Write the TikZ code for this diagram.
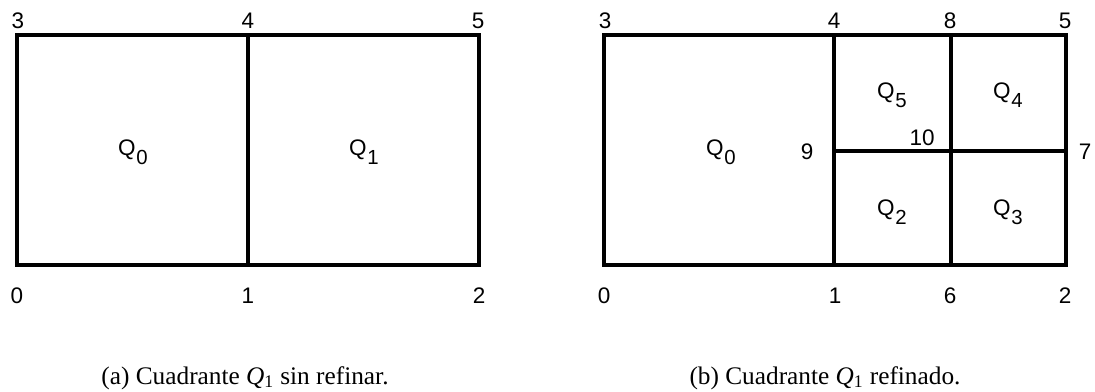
\documentclass[tikz,border=0pt]{standalone}
\usepackage{fontspec}
\setmainfont{Liberation Serif}
\newfontfamily\lblfont{Liberation Sans}
\usetikzlibrary{calc}
\usetikzlibrary{positioning}

\newcommand{\quadname}[1]{Q\kern0.5pt\raisebox{-6pt}{\fontsize{14.5}{15}\selectfont #1}}

\begin{document}
\begin{tikzpicture}[x=0.025cm, y=-0.025cm,
    edge/.style={line width=0.1cm, line cap=rect},
    vlabel/.style={inner sep=0pt, anchor=base, font=\lblfont\fontsize{16}{19}\selectfont},
    caption/.style={inner sep=0pt, anchor=base, font=\fontsize{18}{22}\selectfont}]
    \useasboundingbox (0, 0) rectangle (1095, 392);

    % (a) sin refinar
    \coordinate (a0) at (17, 265);
    \coordinate (a1) at (248, 265);
    \coordinate (a2) at (479, 265);
    \coordinate (a3) at (17, 35);
    \coordinate (a4) at (248, 35);
    \coordinate (a5) at (479, 35);
    \draw [edge] (a0) rectangle (a5);
    \draw [edge] (a1) -- (a4);

    \node [vlabel] (la3) at (18, 29) {3};
    \node [vlabel] (la4) at (248, 29) {4};
    \node [vlabel] (la5) at (478, 29) {5};
    \node [vlabel] (la0) at (17, 303) {0};
    \node [vlabel] (la1) at (248, 303) {1};
    \node [vlabel] (la2) at (479, 303) {2};
    \node [vlabel] (qa0) at (133, 156) {\quadname{0}};
    \node [vlabel] (qa1) at (364, 156) {\quadname{1}};
    \node [caption] (capa) at (245, 384) {(a) Cuadrante \textit{Q}\textsubscript{1} sin refinar.};

    % (b) refinado
    \coordinate (b0) at (604, 265);
    \coordinate (b1) at (834, 265);
    \coordinate (b2) at (1066, 265);
    \coordinate (b3) at (604, 35);
    \coordinate (b4) at (834, 35);
    \coordinate (b5) at (1066, 35);
    \coordinate (b6) at (951, 265);
    \coordinate (b7) at (1066, 151);
    \coordinate (b8) at (951, 35);
    \coordinate (b9) at (834, 151);
    \coordinate (b10) at (951, 151);
    \draw [edge] (b0) rectangle (b5);
    \draw [edge] (b1) -- (b4);
    \draw [edge] (b6) -- (b8);
    \draw [edge] (b9) -- (b7);

    \node [vlabel] (lb3) at (605, 29) {3};
    \node [vlabel] (lb4) at (834, 29) {4};
    \node [vlabel] (lb8) at (950, 29) {8};
    \node [vlabel] (lb5) at (1065, 29) {5};
    \node [vlabel] (lb9) at (807, 160) {9};
    \node [vlabel] (lb10) at (922, 146) {10};
    \node [vlabel] (lb7) at (1085, 160) {7};
    \node [vlabel] (lb0) at (604, 303) {0};
    \node [vlabel] (lb1) at (835, 303) {1};
    \node [vlabel] (lb6) at (950, 303) {6};
    \node [vlabel] (lb2) at (1065, 303) {2};
    \node [vlabel] (qb0) at (721, 156) {\quadname{0}};
    \node [vlabel] (qb5) at (892, 99) {\quadname{5}};
    \node [vlabel] (qb4) at (1008, 99) {\quadname{4}};
    \node [vlabel] (qb2) at (892, 216) {\quadname{2}};
    \node [vlabel] (qb3) at (1008, 216) {\quadname{3}};
    \node [caption] (capb) at (825, 384) {(b) Cuadrante \textit{Q}\textsubscript{1} refinado.};
\end{tikzpicture}
\end{document}
